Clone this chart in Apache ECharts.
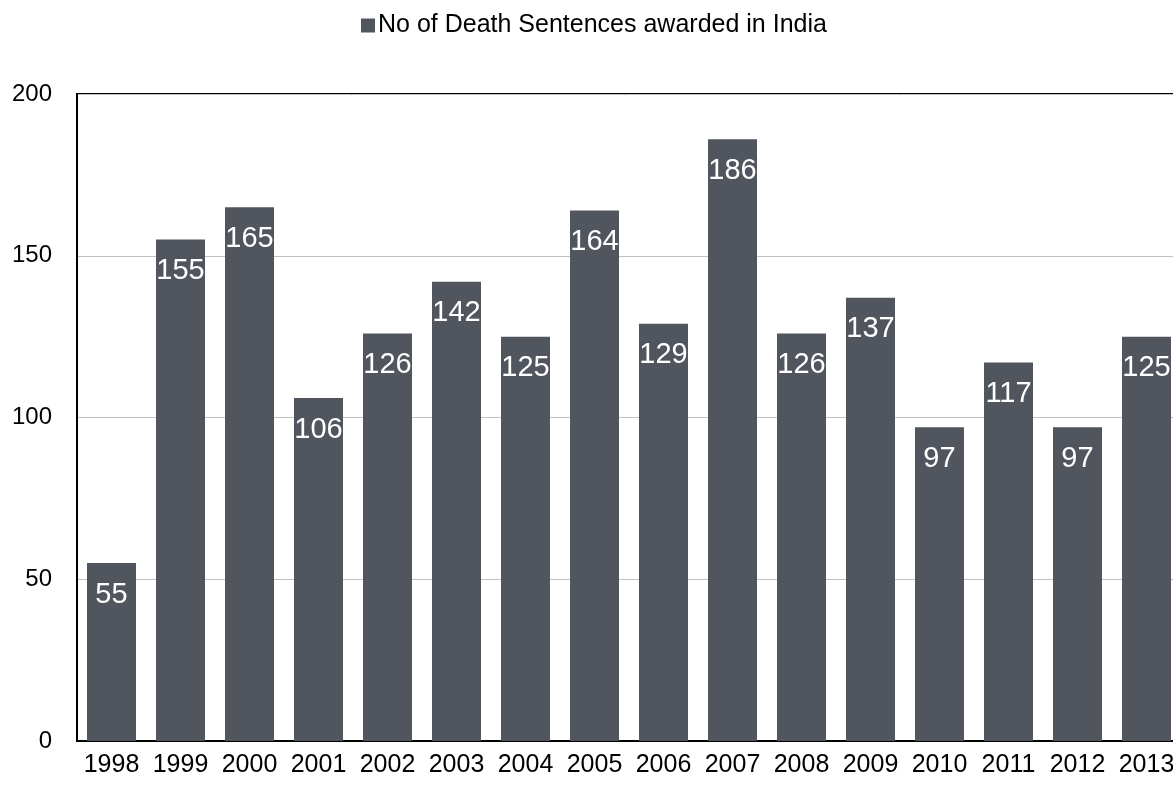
<!DOCTYPE html>
<html>
<head>
<meta charset="utf-8">
<script src="https://cdn.jsdelivr.net/npm/echarts@6/dist/echarts.min.js"></script>
<style>
  html, body { margin: 0; padding: 0; background: #fff; }
  #main { width: 1173px; height: 786px; }
</style>
</head>
<body>
<div id="main"></div>
<script>
// 年份
var years = ['1998','1999','2000','2001','2002','2003','2004','2005','2006','2007','2008','2009','2010','2011','2012','2013'];
// 死刑判决数
var sentences = [55, 155, 165, 106, 126, 142, 125, 164, 129, 186, 126, 137, 97, 117, 97, 125];
var yTicks = [0, 50, 100, 150, 200];
var seriesName = 'No of Death Sentences awarded in India';

var chart = echarts.init(document.getElementById('main'));
chart.setOption({
  animation: false,
  textStyle: { fontFamily: 'Liberation Sans, Arial, sans-serif' },
  legend: {
    top: 8,
    left: 356,
    itemWidth: 14,
    itemHeight: 14,
    itemGap: 4,
    icon: 'rect',
    textStyle: { fontSize: 25, color: '#000', padding: [0, 0, 0, -2] },
    data: [seriesName]
  },
  grid: {
    left: 77, top: 94, bottom: 45, width: 1104,
    outerBoundsMode: 'none',
    containLabel: false,
    show: true,
    borderColor: '#000',
    borderWidth: 2
  },
  xAxis: {
    type: 'category',
    data: years,
    axisLine: { lineStyle: { color: '#000', width: 2 } },
    axisTick: { show: false },
    axisLabel: { fontSize: 25, color: '#000', margin: 12, interval: 0 }
  },
  yAxis: {
    type: 'value',
    min: yTicks[0],
    max: yTicks[yTicks.length - 1],
    interval: 50,
    axisLine: { show: true, lineStyle: { color: '#000', width: 2 } },
    axisTick: { show: false },
    axisLabel: { fontSize: 24, color: '#000', margin: 25 },
    splitLine: { lineStyle: { color: '#c0c0c0', width: 1 } }
  },
  series: [{
    name: seriesName,
    type: 'bar',
    data: sentences,
    barWidth: 49,
    itemStyle: { color: '#51565e' },
    label: {
      show: true,
      position: 'insideTop',
      distance: 17,
      color: '#fff',
      fontSize: 29
    }
  }]
});
</script>
</body>
</html>
